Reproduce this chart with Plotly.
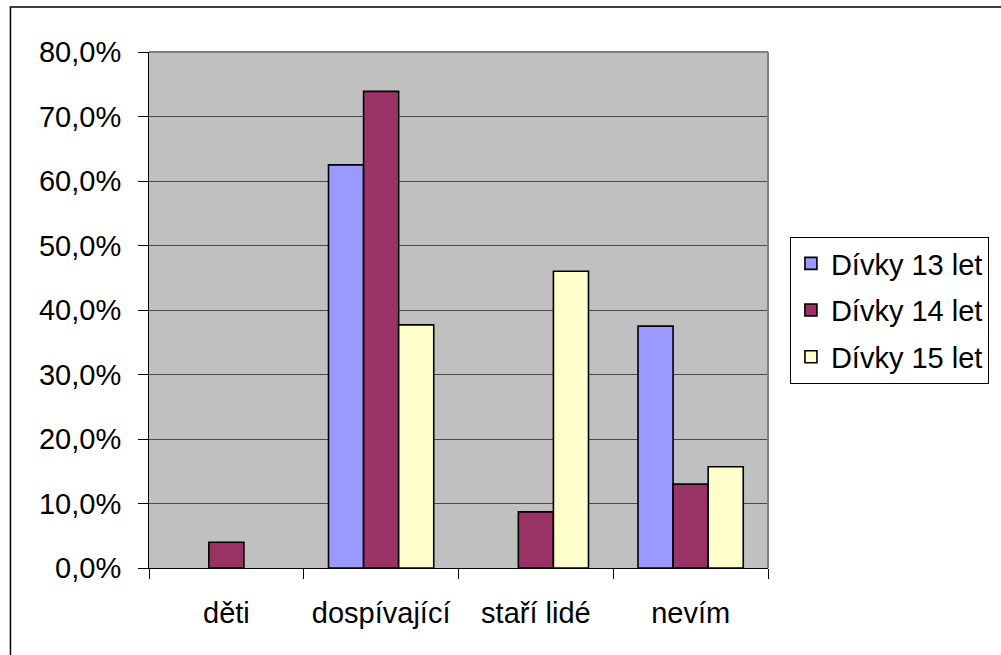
import plotly.graph_objects as go

categories = ["děti", "dospívající", "staří lidé", "nevím"]
series_names = ["Dívky 13 let", "Dívky 14 let", "Dívky 15 let"]
girls_13 = [None, 0.625, None, 0.375]
girls_14 = [0.040, 0.739, 0.087, 0.130]
girls_15 = [None, 0.377, 0.460, 0.157]
colors = ["#9999FF", "#993366", "#FFFFCC"]
y_ticks = [0, 0.1, 0.2, 0.3, 0.4, 0.5, 0.6, 0.7, 0.8]

W, H = 1001, 655
L, R, T, B = 149, 770, 52, 568
pw, ph = R - L, B - T

def px_x(x):
    return (x - L) / pw

def px_y(y):
    return (B - y) / ph

FONT = "Liberation Sans, Arial, sans-serif"
FS = 29

fig = go.Figure()
for i, (name, vals, col) in enumerate(zip(series_names, [girls_13, girls_14, girls_15], colors)):
    fig.add_trace(go.Bar(
        x=categories, y=vals, name=name, legendgroup="g%d" % i,
        marker=dict(color=col, line=dict(color="black", width=1.6)),
        hoverinfo="skip",
    ))

fig.update_layout(
    width=W, height=H,
    margin=dict(l=L, r=W - R, t=T, b=H - B, pad=0),
    paper_bgcolor="white",
    plot_bgcolor="#C0C0C0",
    separators=",.",
    barmode="group",
    bargap=0.32,
    bargroupgap=0,
    font=dict(family=FONT, size=FS, color="black"),
    showlegend=True,
    legend=dict(
        x=px_x(792), y=px_y(237), xanchor="left", yanchor="top",
        bgcolor="white", bordercolor="black", borderwidth=1,
        font=dict(family=FONT, size=FS, color="black"),
        traceorder="grouped",
        tracegroupgap=6,
        itemwidth=30,
    ),
    xaxis=dict(
        type="category",
        showline=True, linecolor="black", linewidth=1,
        ticks="outside", ticklen=10, tickcolor="black", tickwidth=1,
        tickson="boundaries",
        showgrid=False,
        ticklabelstandoff=19,
        tickfont=dict(family=FONT, size=FS, color="black"),
    ),
    yaxis=dict(
        range=[0, 0.8],
        tickvals=y_ticks,
        tickformat=".1%",
        showline=True, linecolor="black", linewidth=1,
        ticks="outside", ticklen=10, tickcolor="black", tickwidth=1,
        showgrid=True, gridcolor="#4a4a4a", gridwidth=1,
        zeroline=False,
        ticklabelstandoff=11,
        tickfont=dict(family=FONT, size=FS, color="black"),
    ),
    shapes=[
        dict(type="line", xref="x domain", yref="y domain", x0=0, x1=1, y0=1, y1=1,
             line=dict(color="#808080", width=2), layer="above"),
        dict(type="line", xref="x domain", yref="y domain", x0=1, x1=1, y0=0, y1=1,
             line=dict(color="#808080", width=2), layer="above"),
        dict(type="rect", xref="paper", yref="paper",
             x0=px_x(10), x1=px_x(1010), y0=px_y(665), y1=px_y(7),
             line=dict(color="black", width=1.5), fillcolor="rgba(0,0,0,0)", layer="below"),
    ],
)

fig.write_html(
    "out.html",
    config={"displayModeBar": False},
    post_script="document.body.style.margin='0';document.body.style.overflow='hidden';",
)
